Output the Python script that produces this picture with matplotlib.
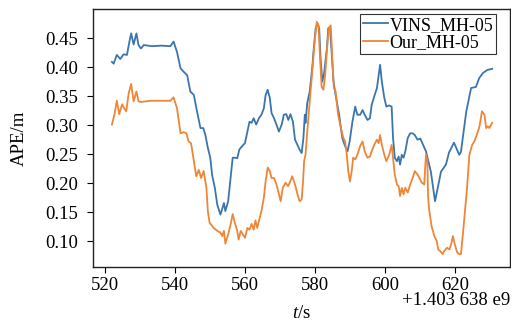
import matplotlib
matplotlib.use("Agg")
import matplotlib.pyplot as plt

plt.rcParams['font.family'] = ['Liberation Serif', 'DejaVu Serif']
plt.rcParams['mathtext.fontset'] = 'custom'
plt.rcParams['mathtext.rm'] = 'Liberation Serif'
plt.rcParams['mathtext.it'] = 'Liberation Serif:italic'

# time in s, relative to 1.403638e9
t_vins = [522.0, 522.5, 523.4, 524.4, 525.3, 526.3, 527.0, 527.5, 528.2, 529.0,
          529.6, 530.3, 531.1, 533.5, 536.0, 538.7, 539.6, 540.6, 541.6, 542.5,
          543.5, 544.4, 545.4, 546.3, 547.3, 548.1, 548.7, 549.4, 550.1, 550.6,
          551.4, 552.1, 553.0, 554.0, 554.4, 555.2, 555.9, 556.5, 557.1, 557.8,
          558.4, 559.2, 560.0, 560.7, 561.3, 561.9, 562.5, 563.2, 564.0, 564.7,
          565.4, 565.9, 566.5, 567.1, 567.6, 568.3, 569.0, 569.7, 570.5, 571.1,
          571.8, 572.4, 573.0, 573.7, 574.3, 575.0, 575.6, 576.2, 576.7, 577.1,
          577.3, 577.8, 578.5, 579.3, 579.5, 580.2, 580.7, 581.2, 581.6, 582.1,
          582.6, 583.4, 583.8, 584.3, 584.8, 585.3, 585.9, 586.9, 587.8, 588.6,
          589.3, 589.9, 590.7, 591.5, 592.1, 592.9, 593.6, 594.2, 595.0, 595.7,
          596.2, 596.9, 597.7, 598.2, 598.6, 599.1, 599.8, 600.4, 601.2, 601.9,
          602.3, 602.8, 603.4, 603.9, 604.3, 604.8, 605.3, 605.8, 606.5, 607.2,
          607.9, 608.5, 609.3, 610.1, 611.7, 613.1, 614.3, 616.0, 617.4, 618.3,
          619.7, 621.2, 621.7, 623.2, 624.6, 626.0, 626.9, 628.0, 629.2, 630.6]
ape_vins = [0.409, 0.406, 0.421, 0.414, 0.422, 0.421, 0.444, 0.458, 0.439, 0.458,
            0.438, 0.432, 0.438, 0.436, 0.437, 0.436, 0.444, 0.426, 0.398, 0.392,
            0.386, 0.358, 0.352, 0.324, 0.295, 0.295, 0.283, 0.261, 0.244, 0.215,
            0.192, 0.163, 0.146, 0.166, 0.152, 0.169, 0.209, 0.244, 0.244, 0.243,
            0.258, 0.264, 0.269, 0.289, 0.306, 0.304, 0.312, 0.301, 0.312, 0.318,
            0.329, 0.352, 0.361, 0.347, 0.321, 0.312, 0.301, 0.289, 0.301, 0.318,
            0.319, 0.309, 0.319, 0.306, 0.275, 0.266, 0.258, 0.252, 0.278, 0.318,
            0.304, 0.338, 0.358, 0.404, 0.421, 0.467, 0.475, 0.467, 0.415, 0.375,
            0.389, 0.432, 0.467, 0.469, 0.421, 0.375, 0.352, 0.318, 0.278, 0.264,
            0.255, 0.272, 0.306, 0.332, 0.318, 0.318, 0.326, 0.318, 0.309, 0.312,
            0.335, 0.349, 0.364, 0.386, 0.404, 0.375, 0.347, 0.332, 0.334, 0.332,
            0.278, 0.244, 0.238, 0.246, 0.232, 0.249, 0.244, 0.255, 0.278, 0.286,
            0.286, 0.283, 0.275, 0.277, 0.255, 0.220, 0.169, 0.220, 0.232, 0.253,
            0.270, 0.249, 0.254, 0.323, 0.364, 0.366, 0.381, 0.390, 0.395, 0.397]

t_our = [522.0, 522.7, 523.4, 524.1, 524.9, 525.5, 526.1, 526.8, 527.5, 528.2,
         529.0, 529.6, 530.3, 533.0, 536.0, 538.7, 539.6, 540.6, 541.6, 542.5,
         543.3, 543.9, 544.6, 545.4, 546.1, 546.8, 547.5, 548.2, 549.0, 549.4,
         549.9, 551.1, 552.1, 553.0, 553.5, 554.0, 554.4, 555.2, 555.9, 556.5,
         557.1, 557.8, 558.2, 558.8, 559.4, 560.0, 560.7, 561.3, 561.9, 562.5,
         563.0, 563.5, 564.0, 564.7, 565.4, 565.9, 566.5, 567.1, 567.6, 568.3,
         569.0, 569.5, 570.2, 570.8, 571.6, 572.3, 572.8, 573.5, 574.3, 575.0,
         575.6, 576.2, 576.6, 576.9, 577.3, 577.8, 578.5, 579.3, 579.9, 580.5,
         581.0, 581.4, 581.9, 582.4, 582.9, 583.6, 584.0, 584.5, 585.0, 585.4,
         585.9, 586.6, 587.4, 588.1, 588.6, 589.1, 589.5, 590.0, 590.5, 590.9,
         591.5, 592.1, 592.9, 593.6, 594.2, 595.0, 595.7, 596.2, 596.9, 597.7,
         598.2, 598.6, 599.1, 599.8, 600.4, 601.2, 601.9, 602.3, 602.8, 603.4,
         603.9, 604.3, 604.8, 605.3, 605.8, 606.5, 607.2, 607.9, 608.5, 609.3,
         609.8, 610.5, 611.2, 611.7, 612.1, 612.3, 612.6, 613.3, 614.1, 614.8,
         615.2, 615.8, 616.5, 616.9, 617.7, 618.4, 618.9, 619.4, 619.8, 620.6,
         621.2, 621.7, 622.2, 622.7, 623.4, 624.1, 624.9, 625.5, 626.2, 627.0,
         627.7, 628.4, 628.9, 629.4, 629.8, 630.6]
ape_our = [0.301, 0.318, 0.342, 0.319, 0.336, 0.329, 0.324, 0.355, 0.371, 0.341,
           0.358, 0.341, 0.340, 0.342, 0.342, 0.342, 0.348, 0.329, 0.286, 0.288,
           0.286, 0.272, 0.269, 0.238, 0.212, 0.223, 0.209, 0.221, 0.192, 0.152,
           0.132, 0.123, 0.118, 0.115, 0.109, 0.118, 0.096, 0.112, 0.129, 0.147,
           0.132, 0.118, 0.103, 0.118, 0.112, 0.106, 0.123, 0.120, 0.130, 0.120,
           0.136, 0.123, 0.135, 0.152, 0.175, 0.203, 0.227, 0.221, 0.209, 0.209,
           0.198, 0.186, 0.169, 0.192, 0.201, 0.195, 0.201, 0.212, 0.198, 0.181,
           0.169, 0.172, 0.203, 0.238, 0.249, 0.289, 0.341, 0.398, 0.444, 0.478,
           0.472, 0.421, 0.366, 0.361, 0.386, 0.444, 0.467, 0.472, 0.409, 0.364,
           0.358, 0.318, 0.295, 0.278, 0.272, 0.249, 0.221, 0.203, 0.221, 0.244,
           0.241, 0.249, 0.264, 0.272, 0.255, 0.244, 0.246, 0.255, 0.266, 0.275,
           0.269, 0.283, 0.266, 0.249, 0.238, 0.249, 0.266, 0.244, 0.215, 0.198,
           0.195, 0.178, 0.192, 0.181, 0.192, 0.184, 0.198, 0.209, 0.221, 0.215,
           0.209, 0.201, 0.198, 0.249, 0.238, 0.178, 0.155, 0.126, 0.109, 0.100,
           0.086, 0.083, 0.078, 0.083, 0.089, 0.086, 0.095, 0.109, 0.098, 0.081,
           0.078, 0.078, 0.109, 0.143, 0.189, 0.249, 0.266, 0.272, 0.283, 0.298,
           0.324, 0.318, 0.295, 0.298, 0.295, 0.304]

xticks = [520, 540, 560, 580, 600, 620]
yticks = [0.10, 0.15, 0.20, 0.25, 0.30, 0.35, 0.40, 0.45]

fig = plt.figure(figsize=(5.11, 3.23), dpi=100)
ax = fig.add_axes([0.182, 0.172, 0.816, 0.800])

ax.plot(t_vins, ape_vins, color='#3a75ae', lw=1.3, label='VINS_MH-05')
ax.plot(t_our, ape_our, color='#ef8636', lw=1.3, label='Our_MH-05')

ax.set_xlim(516.6, 635.7)
ax.set_ylim(0.055, 0.50)
ax.set_xticks(xticks)
ax.set_yticks(yticks)
ax.set_yticklabels([f'{v:.2f}' for v in yticks])
ax.tick_params(labelsize=13.5, length=4, width=0.8)
ax.tick_params(axis='x', pad=3)
ax.tick_params(axis='y', pad=7)
for s in ax.spines.values():
    s.set_linewidth(1.0)
    s.set_color('#222222')

ax.set_ylabel('APE/m', fontsize=13.5, labelpad=12)
ax.set_xlabel(r'$t$/s', fontsize=13.5, labelpad=8)
fig.text(0.998, 0.044, '+1.403 638 e9', fontsize=13.5, ha='right', va='bottom')

leg = ax.legend(loc='upper right', bbox_to_anchor=(0.966, 0.981), fontsize=13,
                frameon=True, fancybox=False, handlelength=1.4,
                handletextpad=0.05, borderpad=0.15, labelspacing=0.02,
                borderaxespad=0.0)
leg.get_frame().set_edgecolor('black')
leg.get_frame().set_linewidth(0.8)

fig.savefig('out.png', dpi=100)
